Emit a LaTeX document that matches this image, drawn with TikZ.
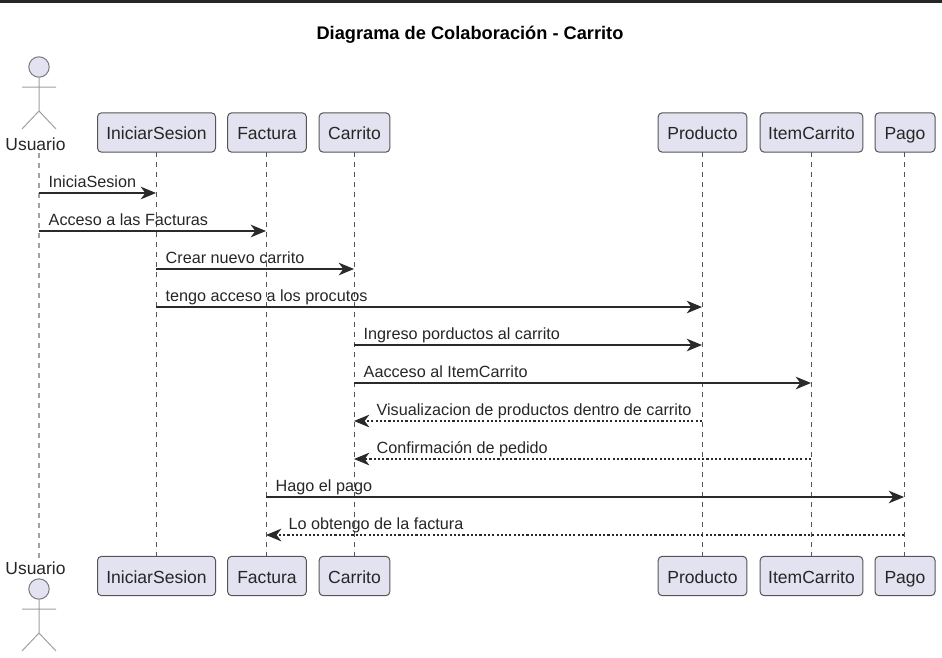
\documentclass[tikz,border=0pt]{standalone}
\usepackage{fontspec}
\setmainfont{Liberation Sans}
\usetikzlibrary{arrows.meta,positioning}
\definecolor{boxfill}{HTML}{E2E2F0}
\definecolor{boxline}{HTML}{555555}
\definecolor{inkline}{HTML}{2A2A2A}
\definecolor{actorline}{HTML}{A0A0A0}
\tikzset{
  party/.style={draw=boxline,fill=boxfill,line width=0.75pt,rounded corners=3pt,
    text=black!85,font=\fontsize{13.15pt}{14pt}\selectfont,
    minimum height=29.5pt,text height=13pt,text depth=1.8pt,inner sep=0pt,anchor=center},
  lifeline/.style={draw=inkline!80,line width=0.6pt,dash pattern=on 3.75pt off 3.75pt},
  actorlife/.style={draw=actorline,line width=0.9pt,dash pattern=on 3.75pt off 3.75pt},
  msg/.style={draw=inkline,line width=0.95pt,-{Stealth[length=11.5pt,width=9.5pt,inset=3.5pt]}},
  back/.style={msg,dash pattern=on 1.6pt off 1.6pt},
  lbl/.style={anchor=base west,inner sep=0pt,text=black!85,xshift=6.8pt,yshift=3.9pt,
    font=\fontsize{12.15pt}{13pt}\selectfont},
  lblback/.style={lbl,xshift=9.7pt},
  actorname/.style={inner sep=0pt,text=black!85,font=\fontsize{13.1pt}{14pt}\selectfont},
  pics/actor/.style={code={
    \draw[actorline!50!boxline,line width=0.75pt,fill=boxfill] (0,0) circle (10.2);
    \draw[actorline,line width=0.75pt] (0,10.2) -- (0,44) (-17,20) -- (17,20)
      (-17,62) -- (0,44) -- (17,62);
  }}
}
\begin{document}
\begin{tikzpicture}[x=0.75pt,y=-0.75pt]
\useasboundingbox (0,0) rectangle (942,657);
\fill[black!85] (0,0) rectangle (942,2.5);
\node[font=\bfseries\fontsize{13.67pt}{15pt}\selectfont,inner sep=0pt,anchor=base] (title) at (470,39) {Diagrama de Colaboración - Carrito};

% top row
\node[actorname] (UT) at (35.5,144.5) {Usuario};
\node[party,minimum width=88.5pt] (IT) at (156.5,132.5) {IniciarSesion};
\node[party,minimum width=59pt]   (FT) at (267,132.5) {Factura};
\node[party,minimum width=53pt]   (CT) at (354.5,132.5) {Carrito};
\node[party,minimum width=66.5pt] (PT) at (702.5,132.5) {Producto};
\node[party,minimum width=77pt]   (AT) at (811.5,132.5) {ItemCarrito};
\node[party,minimum width=45pt]   (GT) at (905,132.5) {Pago};

% bottom row
\node[actorname] (UB) at (35.5,568.5) {Usuario};
\node[party,minimum width=88.5pt] (IB) at (156.5,576) {IniciarSesion};
\node[party,minimum width=59pt]   (FB) at (267,576) {Factura};
\node[party,minimum width=53pt]   (CB) at (354.5,576) {Carrito};
\node[party,minimum width=66.5pt] (PB) at (702.5,576) {Producto};
\node[party,minimum width=77pt]   (AB) at (811.5,576) {ItemCarrito};
\node[party,minimum width=45pt]   (GB) at (905,576) {Pago};

\pic at (39,67) {actor};
\pic at (39,589) {actor};

% lifelines
\coordinate (U1) at (39,153);
\coordinate (U2) at (39,558);
\coordinate (I1) at (156,152);
\coordinate (I2) at (156,556);
\coordinate (F1) at (266,152);
\coordinate (F2) at (266,556);
\coordinate (C1) at (354,152);
\coordinate (C2) at (354,556);
\coordinate (P1) at (702,152);
\coordinate (P2) at (702,556);
\coordinate (A1) at (811,152);
\coordinate (A2) at (811,556);
\coordinate (G1) at (904,152);
\coordinate (G2) at (904,556);
\draw[actorlife] (U1) -- (U2);
\draw[lifeline] (I1) -- (I2);
\draw[lifeline] (F1) -- (F2);
\draw[lifeline] (C1) -- (C2);
\draw[lifeline] (P1) -- (P2);
\draw[lifeline] (A1) -- (A2);
\draw[lifeline] (G1) -- (G2);

% rows of messages
\coordinate (r1) at (0,193);
\coordinate (r2) at (0,231);
\coordinate (r3) at (0,269);
\coordinate (r4) at (0,307);
\coordinate (r5) at (0,345);
\coordinate (r6) at (0,383);
\coordinate (r7) at (0,421);
\coordinate (r8) at (0,459);
\coordinate (r9) at (0,497);
\coordinate (r10) at (0,535);

\path
(U1 |- r1) edge[msg] node[lbl,at start] (m1) {IniciaSesion} (I1 |- r1)
(U1 |- r2) edge[msg] node[lbl,at start] (m2) {Acceso a las Facturas} (F1 |- r2)
(I1 |- r3) edge[msg] node[lbl,at start] (m3) {Crear nuevo carrito} (C1 |- r3)
(I1 |- r4) edge[msg] node[lbl,at start] (m4) {tengo acceso a los procutos} (P1 |- r4)
(C1 |- r5) edge[msg] node[lbl,at start] (m5) {Ingreso porductos al carrito} (P1 |- r5)
(C1 |- r6) edge[msg] node[lbl,at start] (m6) {Aacceso al ItemCarrito} (A1 |- r6)
(P1 |- r7) edge[back] node[lblback,at end] (m7) {Visualizacion de productos dentro de carrito} (C1 |- r7)
(A1 |- r8) edge[back] node[lblback,at end] (m8) {Confirmación de pedido} (C1 |- r8)
(F1 |- r9) edge[msg] node[lbl,at start] (m9) {Hago el pago} (G1 |- r9)
(G1 |- r10) edge[back] node[lblback,at end] (m10) {Lo obtengo de la factura} (F1 |- r10);
\end{tikzpicture}
\end{document}
